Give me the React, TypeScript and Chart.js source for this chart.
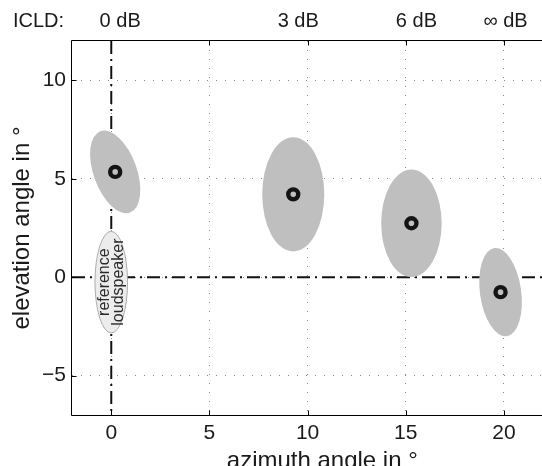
import React, { useEffect, useRef } from "react";
import { Chart, registerables } from "chart.js";

Chart.register(...registerables);

// ---- data ----
const xTicks = [0, 5, 10, 15, 20];
const yTicks = [-5, 0, 5, 10];
const icldTitle = "ICLD:";
const icldLabels = ["0 dB", "3 dB", "6 dB", "\u221E dB"];
const azimuth = [0.2, 9.27, 15.29, 19.83];
const elevation = [5.35, 4.21, 2.74, -0.76];
const azimuthSpread = [1.1, 1.58, 1.54, 1.05];
const elevationSpread = [2.2, 2.9, 2.73, 2.26];
const ellipseTilt = [-20, 0, 0, -8];
const refAzimuth = 0;
const refElevation = -0.25;
const refAzimuthSpread = 0.83;
const refElevationSpread = 2.58;
const refLabel = ["reference", "loudspeaker"];
const xTitle = "azimuth angle in \u00B0";
const yTitle = "elevation angle in \u00B0";
const xMin = -2;
const xMax = 23.5;
const yMin = -7;
const yMax = 12;

const FONT = '"Liberation Sans", Arial, Helvetica, sans-serif';
const INK = "#1a1a1a";

const overlay = {
  id: "overlay",
  beforeDatasetsDraw(chart: any) {
    const { ctx, chartArea: a, scales } = chart;
    const x = scales.x;
    const y = scales.y;
    ctx.save();
    ctx.beginPath();
    ctx.rect(a.left, a.top, a.right - a.left, a.bottom - a.top);
    ctx.clip();

    // dash-dot zero lines
    const x0 = x.getPixelForValue(0);
    const y0 = y.getPixelForValue(0);
    ctx.strokeStyle = "#111";
    ctx.lineWidth = 2;
    ctx.setLineDash([13, 5, 2, 5]);
    ctx.beginPath();
    ctx.moveTo(x0, a.top);
    ctx.lineTo(x0, a.bottom);
    ctx.stroke();
    ctx.beginPath();
    ctx.moveTo(a.left, y0);
    ctx.lineTo(a.right, y0);
    ctx.stroke();
    ctx.setLineDash([]);

    // reference loudspeaker ellipse
    const rcx = x.getPixelForValue(refAzimuth);
    const rcy = y.getPixelForValue(refElevation);
    const rrx = Math.abs(x.getPixelForValue(refAzimuth + refAzimuthSpread) - rcx);
    const rry = Math.abs(y.getPixelForValue(refElevation + refElevationSpread) - rcy);
    ctx.beginPath();
    ctx.ellipse(rcx, rcy, rrx, rry, 0, 0, Math.PI * 2);
    ctx.fillStyle = "#ececec";
    ctx.fill();
    ctx.strokeStyle = "#9a9a9a";
    ctx.lineWidth = 0.8;
    ctx.stroke();

    ctx.save();
    ctx.translate(rcx, rcy);
    ctx.rotate(-Math.PI / 2);
    ctx.fillStyle = "#2a2a2a";
    ctx.font = `16px ${FONT}`;
    ctx.textAlign = "center";
    ctx.textBaseline = "middle";
    ctx.fillText(refLabel[0], 0, -7);
    ctx.fillText(refLabel[1], 0, 7.5);
    ctx.restore();

    // perceived-direction ellipses
    for (let i = 0; i < azimuth.length; i++) {
      const cx = x.getPixelForValue(azimuth[i]);
      const cy = y.getPixelForValue(elevation[i]);
      const rx = Math.abs(x.getPixelForValue(azimuth[i] + azimuthSpread[i]) - cx);
      const ry = Math.abs(y.getPixelForValue(elevation[i] + elevationSpread[i]) - cy);
      ctx.beginPath();
      ctx.ellipse(cx, cy, rx, ry, (ellipseTilt[i] * Math.PI) / 180, 0, Math.PI * 2);
      ctx.fillStyle = "#bfbfbf";
      ctx.fill();
    }
    ctx.restore();
  },
  afterDraw(chart: any) {
    const { ctx, chartArea: a, scales } = chart;
    const x = scales.x;
    const y = scales.y;
    ctx.save();
    // frame
    ctx.strokeStyle = "#000";
    ctx.lineWidth = 1;
    const L = Math.round(a.left) - 0.5;
    const T = Math.round(a.top) - 0.5;
    const B = Math.round(a.bottom) + 0.5;
    ctx.beginPath();
    ctx.moveTo(a.right + 2, T);
    ctx.lineTo(L, T);
    ctx.lineTo(L, B);
    ctx.lineTo(a.right + 2, B);
    ctx.stroke();
    // inward tick marks
    ctx.beginPath();
    for (const v of xTicks) {
      const px = Math.round(x.getPixelForValue(v)) + 0.5;
      ctx.moveTo(px, T);
      ctx.lineTo(px, T + 5);
      ctx.moveTo(px, B);
      ctx.lineTo(px, B - 5);
    }
    for (const v of yTicks) {
      const py = Math.round(y.getPixelForValue(v)) + 0.5;
      ctx.moveTo(L, py);
      ctx.lineTo(L + 5, py);
    }
    ctx.stroke();

    // ICLD labels
    ctx.fillStyle = INK;
    ctx.font = `20px ${FONT}`;
    ctx.textBaseline = "middle";
    ctx.textAlign = "left";
    ctx.fillText(icldTitle, 13, 21);
    ctx.textAlign = "center";
    for (let i = 0; i < icldLabels.length; i++) {
      ctx.fillText(icldLabels[i], x.getPixelForValue(azimuth[i]) + 5, 21);
    }

    // axis titles
    ctx.font = `24px ${FONT}`;
    ctx.textAlign = "center";
    ctx.fillText(xTitle, (a.left + a.right) / 2, 461);
    ctx.save();
    ctx.translate(22, (a.top + a.bottom) / 2);
    ctx.rotate(-Math.PI / 2);
    ctx.fillText(yTitle, 0, 0);
    ctx.restore();
    ctx.restore();
  },
};

export default function App() {
  const ref = useRef<HTMLCanvasElement>(null);
  useEffect(() => {
    const canvas = ref.current;
    if (!canvas) return;
    const chart = new Chart(canvas, {
      type: "scatter",
      data: {
        datasets: [
          {
            data: azimuth.map((v, i) => ({ x: v, y: elevation[i] })),
            pointRadius: 5,
            pointHoverRadius: 5,
            pointBorderWidth: 4.4,
            pointBorderColor: "#141414",
            pointBackgroundColor: "rgba(0,0,0,0)",
          },
        ],
      },
      options: {
        responsive: false,
        maintainAspectRatio: false,
        animation: false,
        devicePixelRatio: 1,
        events: [],
        layout: { padding: { top: 41, left: 0, right: 0, bottom: 0 } },
        plugins: { legend: { display: false }, tooltip: { enabled: false } },
        scales: {
          x: {
            type: "linear",
            min: xMin,
            max: xMax,
            afterFit: (s: any) => {
              s.height = 51;
            },
            afterBuildTicks: (s: any) => {
              s.ticks = xTicks.map((v) => ({ value: v }));
            },
            grid: { color: "#8a8a8a", lineWidth: 1, drawTicks: false },
            border: { display: false, dash: [1, 8] },
            ticks: {
              padding: 6,
              color: INK,
              maxRotation: 0,
              font: { family: FONT, size: 21 },
            },
          },
          y: {
            type: "linear",
            min: yMin,
            max: yMax,
            afterFit: (s: any) => {
              s.width = 72;
            },
            afterBuildTicks: (s: any) => {
              s.ticks = yTicks.map((v) => ({ value: v }));
            },
            grid: { color: "#8a8a8a", lineWidth: 1, drawTicks: false },
            border: { display: false, dash: [1, 8] },
            ticks: {
              padding: 6,
              color: INK,
              font: { family: FONT, size: 21 },
              callback: (v: any) => String(v).replace("-", "\u2212"),
            },
          },
        },
      },
      plugins: [overlay],
    });
    return () => chart.destroy();
  }, []);
  return (
    <div
      style={{
        position: "absolute",
        left: 0,
        top: 0,
        width: 542,
        height: 466,
        overflow: "hidden",
        background: "#fff",
      }}
    >
      <canvas ref={ref} width={582} height={466} style={{ display: "block", width: 582, height: 466 }} />
    </div>
  );
}
